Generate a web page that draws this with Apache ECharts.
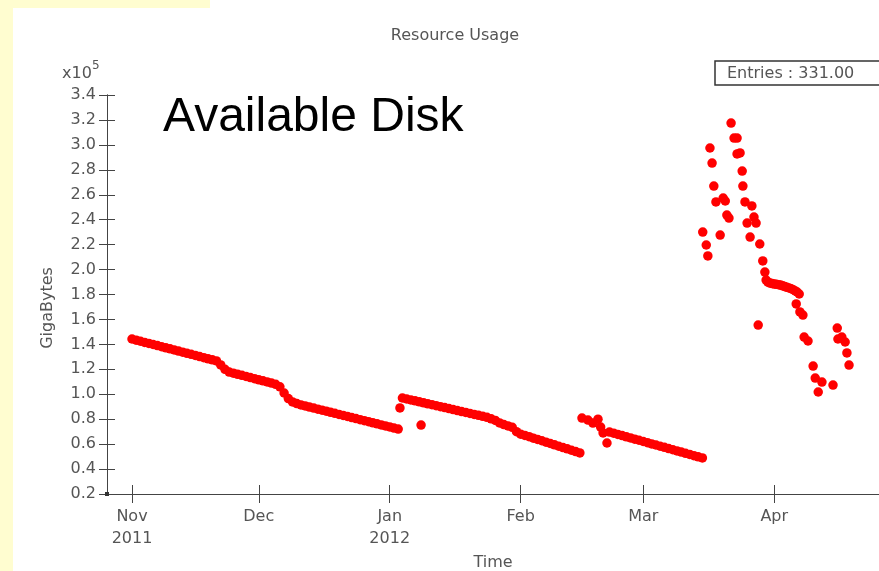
<!DOCTYPE html>
<html><head><meta charset="utf-8">
<script src="https://cdn.jsdelivr.net/npm/echarts@6/dist/echarts.min.js"></script>
<style>html,body{margin:0;padding:0;background:#fff}#c{width:879px;height:571px}</style>
</head><body><div id="c"></div>
<script>
// ---------------- data (values in units of 10^5 GigaBytes) ----------------
const chartTitle = 'Resource Usage';
const seriesLabel = 'Available Disk';
const entriesText = 'Entries : 331.00';
const monthNames = ['Jan','Feb','Mar','Apr','May','Jun','Jul','Aug','Sep','Oct','Nov','Dec'];

// Nov 2011 - early Jan 2012 segment
const datesA = ['2011-11-01','2011-11-02','2011-11-03','2011-11-04','2011-11-05','2011-11-06','2011-11-07','2011-11-08','2011-11-09','2011-11-10',
'2011-11-11','2011-11-12','2011-11-13','2011-11-14','2011-11-15','2011-11-16','2011-11-17','2011-11-18','2011-11-19','2011-11-20',
'2011-11-21','2011-11-22','2011-11-23','2011-11-24','2011-11-25','2011-11-26','2011-11-27','2011-11-28','2011-11-29','2011-11-30',
'2011-12-01','2011-12-02','2011-12-03','2011-12-04','2011-12-05','2011-12-06','2011-12-07','2011-12-08','2011-12-09','2011-12-10',
'2011-12-11','2011-12-12','2011-12-13','2011-12-14','2011-12-15','2011-12-16','2011-12-17','2011-12-18','2011-12-19','2011-12-20',
'2011-12-21','2011-12-22','2011-12-23','2011-12-24','2011-12-25','2011-12-26','2011-12-27','2011-12-28','2011-12-29','2011-12-30',
'2011-12-31','2012-01-01','2012-01-02','2012-01-03'];
const valuesA = [1.443,1.434,1.425,1.416,1.408,1.399,1.390,1.381,1.372,1.364,
1.355,1.346,1.337,1.328,1.320,1.311,1.302,1.293,1.284,1.276,
1.267,1.235,1.200,1.178,1.169,1.160,1.152,1.143,1.134,1.125,
1.116,1.108,1.099,1.090,1.080,1.060,1.010,0.965,0.938,0.925,
0.914,0.906,0.897,0.889,0.880,0.872,0.864,0.855,0.847,0.838,
0.830,0.822,0.813,0.805,0.796,0.788,0.780,0.771,0.763,0.754,
0.746,0.738,0.729,0.721];

// Jan - mid Feb 2012 segment (with two stray points)
const datesB = ['2012-01-03 10:00','2012-01-08 10:00',
'2012-01-04','2012-01-05','2012-01-06','2012-01-07','2012-01-08','2012-01-09','2012-01-10','2012-01-11','2012-01-12','2012-01-13',
'2012-01-14','2012-01-15','2012-01-16','2012-01-17','2012-01-18','2012-01-19','2012-01-20','2012-01-21','2012-01-22','2012-01-23',
'2012-01-24','2012-01-25','2012-01-26','2012-01-27','2012-01-28','2012-01-29','2012-01-30','2012-01-31',
'2012-02-01','2012-02-02','2012-02-03','2012-02-04','2012-02-05','2012-02-06','2012-02-07','2012-02-08','2012-02-09','2012-02-10',
'2012-02-11','2012-02-12','2012-02-13','2012-02-14','2012-02-15'];
const valuesB = [0.890,0.753,
0.970,0.962,0.954,0.947,0.939,0.931,0.923,0.916,0.908,0.900,
0.893,0.885,0.877,0.869,0.861,0.854,0.846,0.838,0.831,0.823,
0.815,0.803,0.790,0.770,0.757,0.746,0.735,0.700,
0.680,0.670,0.660,0.648,0.638,0.627,0.616,0.605,0.594,0.583,
0.572,0.562,0.551,0.540,0.529];

// mid Feb - mid Mar 2012 segment
const datesC = ['2012-02-15 12:00','2012-02-16 22:00','2012-02-18 02:00','2012-02-19 07:00','2012-02-19 22:00','2012-02-20 12:00','2012-02-21 10:00',
'2012-02-22','2012-02-23','2012-02-24','2012-02-25','2012-02-26','2012-02-27','2012-02-28','2012-02-29',
'2012-03-01','2012-03-02','2012-03-03','2012-03-04','2012-03-05','2012-03-06','2012-03-07','2012-03-08','2012-03-09','2012-03-10',
'2012-03-11','2012-03-12','2012-03-13','2012-03-14','2012-03-15'];
const valuesC = [0.809,0.793,0.769,0.800,0.737,0.690,0.609,
0.697,0.688,0.678,0.669,0.659,0.650,0.640,0.631,
0.621,0.612,0.602,0.593,0.583,0.574,0.564,0.555,0.545,0.536,
0.526,0.517,0.507,0.498,0.489];

// late Mar - Apr 2012 scattered segment
const datesD = ['2012-03-15 02:00','2012-03-15 22:00','2012-03-16 07:00','2012-03-16 19:00','2012-03-17 07:00','2012-03-17 17:00','2012-03-18 05:00',
'2012-03-19 05:00','2012-03-19 22:00','2012-03-20 10:00','2012-03-20 19:00','2012-03-21 07:00','2012-03-21 19:00','2012-03-22 12:00',
'2012-03-23 05:00','2012-03-23 05:00','2012-03-23 22:00','2012-03-24 10:00','2012-03-24 14:00','2012-03-25 02:00','2012-03-25 14:00',
'2012-03-26 07:00','2012-03-26 17:00','2012-03-27 05:00','2012-03-27 17:00','2012-03-28 05:00','2012-03-28 14:00','2012-03-29 07:00',
'2012-03-29 19:00','2012-03-30 02:00','2012-03-30 12:00','2012-03-31 00:00','2012-03-31 12:00','2012-04-01 00:00','2012-04-01 12:00',
'2012-04-02 00:00','2012-04-02 12:00','2012-04-03 00:00','2012-04-03 12:00','2012-04-04 00:00','2012-04-04 12:00','2012-04-05 00:00',
'2012-04-05 12:00','2012-04-06 00:00','2012-04-06 10:00','2012-04-06 22:00','2012-04-06 05:00','2012-04-07 02:00','2012-04-07 19:00',
'2012-04-08 02:00','2012-04-09 00:00','2012-04-10 05:00','2012-04-10 17:00','2012-04-11 10:00','2012-04-12 07:00','2012-04-14 22:00',
'2012-04-15 22:00','2012-04-16 02:00','2012-04-17 00:00','2012-04-17 19:00','2012-04-18 05:00','2012-04-18 17:00'];
const valuesD = [2.301,2.197,2.109,2.975,2.854,2.670,2.542,
2.277,2.574,2.550,2.437,2.413,3.175,3.055,
3.055,2.927,2.935,2.790,2.670,2.542,2.373,
2.261,2.510,2.421,2.373,1.555,2.205,2.069,
1.980,1.916,1.900,1.892,1.888,1.884,1.882,
1.879,1.876,1.870,1.864,1.858,1.853,1.846,
1.838,1.828,1.820,1.804,1.724,1.660,1.635,
1.459,1.427,1.226,1.130,1.018,1.098,1.074,
1.531,1.443,1.459,1.419,1.331,1.234];

const yMin = 0.2, yMax = 3.4, yStep = 0.2;
const xMin = new Date(2011, 9, 26, 2).getTime();
const xMax = new Date(2012, 3, 25, 19, 12).getTime();

// ---------------- build ----------------
function pairs(d, v){ return d.map((s,i)=>[s, v[i]]); }
const pointsEarly = [].concat(pairs(datesA,valuesA), pairs(datesB,valuesB));
const pointsLate = [].concat(pairs(datesC,valuesC), pairs(datesD,valuesD));

const FONT = 'DejaVu Sans';
const TXT = '#555';
const AX = '#444';
const DAY = 86400000;
const CLEAR = 'rgba(255,255,255,0)';

function monthLabel(val){
  const d = new Date(val);
  const m = d.getMonth();
  let s = monthNames[m];
  if ((m === 10 && d.getFullYear() === 2011) || m === 0) s += '\n' + d.getFullYear();
  return s;
}

const dot = {symbol:'circle', symbolSize:9.5, itemStyle:{color:'#ff0000', opacity:1}, z:5};

const chart = echarts.init(document.getElementById('c'), null, {renderer:'canvas'});
chart.setOption({
  animation:false,
  backgroundColor:'#ffffff',
  grid:{left:107, right:0, top:95, bottom:77, containLabel:false},
  xAxis:[{
    type:'time', min:xMin, max:xMax, minInterval:28*DAY, maxInterval:31*DAY,
    axisLine:{show:true, onZero:false, lineStyle:{color:AX, width:1}},
    axisTick:{show:true, inside:false, length:9, lineStyle:{color:AX}},
    axisLabel:{show:true, formatter:monthLabel, color:TXT, fontFamily:FONT, fontSize:16, lineHeight:22, margin:12,
      showMinLabel:false, showMaxLabel:false, hideOverlap:false},
    splitLine:{show:false}
  },{
    type:'time', min:xMin, max:xMax, minInterval:28*DAY, maxInterval:31*DAY, position:'bottom',
    axisLine:{show:true, onZero:false, lineStyle:{color:AX, width:1}},
    axisTick:{show:true, inside:true, length:9, lineStyle:{color:AX}},
    axisLabel:{show:true, color:CLEAR, margin:40, fontSize:10},
    splitLine:{show:false}
  }],
  yAxis:[{
    type:'value', min:yMin, max:yMax, interval:yStep,
    axisLine:{show:true, onZero:false, lineStyle:{color:AX, width:1}},
    axisTick:{show:true, inside:false, length:8, lineStyle:{color:AX}},
    axisLabel:{formatter:v=>v.toFixed(1), color:TXT, fontFamily:FONT, fontSize:16, margin:11},
    splitLine:{show:false}
  },{
    type:'value', min:yMin, max:yMax, interval:yStep, position:'left',
    axisLine:{show:true, onZero:false, lineStyle:{color:AX, width:1}},
    axisTick:{show:true, inside:true, length:8, lineStyle:{color:AX}},
    axisLabel:{show:true, color:CLEAR, margin:40, fontSize:10},
    splitLine:{show:false}
  }],
  series:[
    Object.assign({name:seriesLabel, type:'scatter', xAxisIndex:0, yAxisIndex:0, data:pointsEarly}, dot),
    Object.assign({name:seriesLabel, type:'scatter', xAxisIndex:1, yAxisIndex:1, data:pointsLate}, dot)
  ],
  graphic:[
    {type:'rect', shape:{x:0,y:0,width:13,height:571}, style:{fill:'#fffdd0'}, silent:true},
    {type:'rect', shape:{x:0,y:0,width:210,height:8}, style:{fill:'#fffdd0'}, silent:true},
    {type:'text', x:455, y:28, style:{text:chartTitle, font:'16px "DejaVu Sans"', fill:TXT, textAlign:'center', textVerticalAlign:'top'}},
    {type:'text', x:62, y:66, style:{text:'x10', font:'16px "DejaVu Sans"', fill:TXT, textAlign:'left', textVerticalAlign:'top'}},
    {type:'text', x:92, y:60, style:{text:'5', font:'12px "DejaVu Sans"', fill:TXT, textAlign:'left', textVerticalAlign:'top'}},
    {type:'text', x:163, y:94, style:{text:seriesLabel, font:'48px "Liberation Sans"', fill:'#000', textAlign:'left', textVerticalAlign:'top'}},
    {type:'rect', shape:{x:715,y:61,width:200,height:24}, style:{fill:'#fff', stroke:'#333', lineWidth:1.5}},
    {type:'text', x:727, y:74, style:{text:entriesText, font:'16px "DejaVu Sans"', fill:TXT, textAlign:'left', textVerticalAlign:'middle'}},
    {type:'text', x:48, y:308, rotation:Math.PI/2, style:{text:'GigaBytes', font:'16px "DejaVu Sans"', fill:TXT, textAlign:'center', textVerticalAlign:'middle'}},
    {type:'text', x:493, y:555, style:{text:'Time', font:'16px "DejaVu Sans"', fill:TXT, textAlign:'center', textVerticalAlign:'top'}},
    {type:'rect', shape:{x:105,y:492,width:4,height:4}, style:{fill:'#333'}, z:100}
  ]
});
</script>
</body></html>
